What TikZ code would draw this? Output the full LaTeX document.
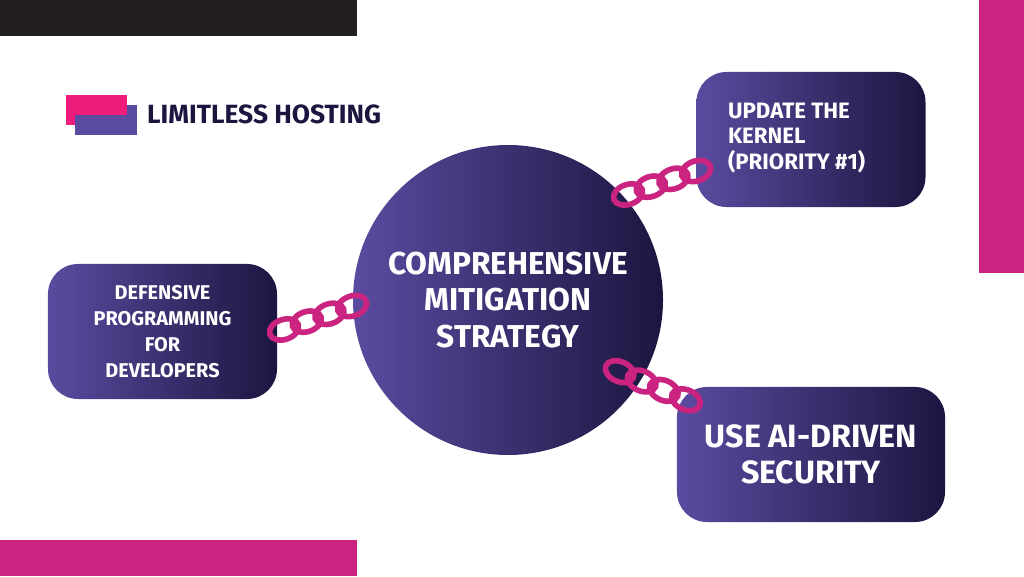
\documentclass[tikz,border=0pt]{standalone}
\usepackage{fontspec}
\setmainfont{Fira Sans}
\usetikzlibrary{positioning,calc}

\definecolor{inkdark}{HTML}{1B1640}
\definecolor{violet}{HTML}{5B4BA0}
\definecolor{magenta}{HTML}{CB2380}
\definecolor{barblack}{HTML}{231F20}
\definecolor{logopink}{HTML}{EE1C7A}

\begin{document}
\begin{tikzpicture}[x=0.03cm, y=0.03cm]
  \tikzstyle{box} = [
    rectangle, rounded corners = 0.9cm,
    left color = violet, right color = inkdark,
    text = white, align = center,
    font = \bfseries\fontsize{17}{22}\selectfont
  ]
  \tikzstyle{hub} = [
    circle, minimum size = 9.3cm,
    left color = violet, right color = inkdark,
    text = white, align = center,
    font = \bfseries\fontsize{27}{31}\selectfont
  ]
  \tikzstyle{link} = [draw = magenta, line width = 4.8pt]

  \useasboundingbox (0,0) rectangle (1024,576);
  \fill[white] (0,0) rectangle (1024,576);

  % bars
  \fill[barblack] (0,540) rectangle (357,576);
  \fill[magenta]  (0,0) rectangle (357,36);
  \fill[magenta]  (979,303) rectangle (1024,576);

  % logo
  \fill[logopink] (66,451) rectangle (127,481);
  \fill[violet]   (75,441) rectangle (137,471);
  \fill[logopink] (75,461) rectangle (127,471);
  \node[anchor = west, text = inkdark,
        font = \bfseries\fontsize{22.5}{26}\selectfont] (brand) at (143,462) {LIMITLESS HOSTING};

  % nodes
  \node [hub] (hub) at (508,276) {COMPREHENSIVE\\MITIGATION\\STRATEGY};
  \node [box, minimum width = 6.87cm, minimum height = 4.05cm] (kernel) at (811,436.5) {};
  \node [anchor = west, text = white, align = left,
         font = \bfseries\fontsize{19}{22}\selectfont] (kerneltext) at (724,438)
        {UPDATE THE\\KERNEL\\(PRIORITY \#1)};
  \node [box, minimum width = 6.87cm, minimum height = 4.05cm] (defensive) at (162.5,244.5)
        {DEFENSIVE\\PROGRAMMING\\FOR\\DEVELOPERS};
  \node [box, minimum width = 8.04cm, minimum height = 4.05cm,
         font = \bfseries\fontsize{27.5}{31}\selectfont] (aisec) at (811,121.5)
        {USE AI-DRIVEN\\SECURITY};

  % chains
  \foreach \sx/\sy/\ang in {612/376/19, 268/241/19, 604/211/-23} {
    \begin{scope}[shift = {(\sx,\sy)}, rotate = \ang]
      \foreach \k in {0,...,3}
        \draw[link] (17+24*\k,0) ellipse [x radius = 15, y radius = 10];
    \end{scope}
  }
\end{tikzpicture}
\end{document}
